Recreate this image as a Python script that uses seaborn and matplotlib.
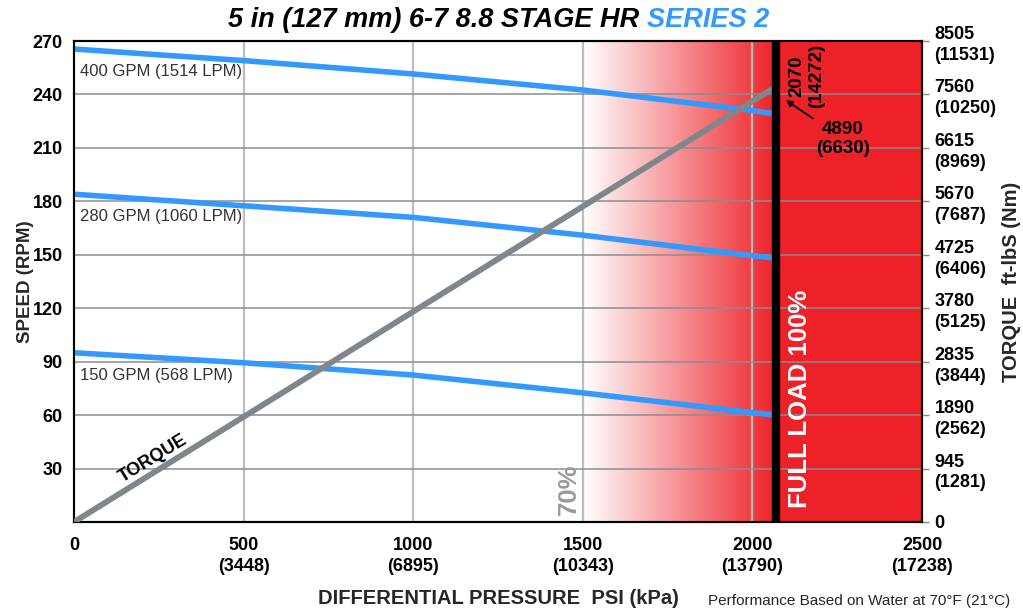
import numpy as np
import pandas as pd
import matplotlib
matplotlib.use("Agg")
import matplotlib.pyplot as plt
from matplotlib.colors import LinearSegmentedColormap
import seaborn as sns

# ---------------- data ----------------
pressure_psi = [0, 500, 1000, 1500, 2000, 2070]
rpm_400 = [265.5, 259, 251.5, 242.5, 231, 229]
rpm_280 = [184, 177.5, 171, 161, 149.5, 148]
rpm_150 = [95, 89.4, 82.5, 72.5, 61.4, 60]
flow_labels = ["400 GPM (1514 LPM)", "280 GPM (1060 LPM)", "150 GPM (568 LPM)"]

torque_psi = [0, 2070]
torque_ftlb = [0, 7700]

x_ticks = [0, 500, 1000, 1500, 2000, 2500]
x_ticklabels = ["0", "500\n(3448)", "1000\n(6895)", "1500\n(10343)", "2000\n(13790)", "2500\n(17238)"]
y_ticks = [30, 60, 90, 120, 150, 180, 210, 240, 270]
t_ticks = [0, 945, 1890, 2835, 3780, 4725, 5670, 6615, 7560, 8505]
t_ticklabels = ["0", "945\n(1281)", "1890\n(2562)", "2835\n(3844)", "3780\n(5125)",
                "4725\n(6406)", "5670\n(7687)", "6615\n(8969)", "7560\n(10250)", "8505\n(11531)"]

full_load_psi = 2070
zone70_psi = 1500
x_max = 2500

# ---------------- style ----------------
sns.set_theme(style="white")
plt.rcParams["font.family"] = ["Liberation Sans", "DejaVu Sans"]

BLUE = "#3399ff"
RED = "#ed2127"
GRAY = "#7f868c"

fig = plt.figure(figsize=(10.23, 6.11), dpi=100)
ax = fig.add_axes([74/1023, 1-522/611, 848/1023, 481/611])
ax.set_xlim(0, x_max)
ax.set_ylim(0, 270)

# red zones
cmap = LinearSegmentedColormap.from_list("wr", ["#ffffff", RED])
grad = np.linspace(0, 1, 256).reshape(1, -1)
ax.imshow(grad, extent=[zone70_psi, full_load_psi, 0, 270], aspect="auto",
          cmap=cmap, zorder=0, interpolation="bilinear")
ax.axvspan(full_load_psi, x_max, color=RED, zorder=0.5, lw=0)

# grid
for yv in y_ticks:
    ax.axhline(yv, color="#8a8d90", lw=1.1, zorder=1.5)
for xv in x_ticks[1:-1]:
    ax.axvline(xv, color="#bdbdbd", lw=1.6, zorder=1.4)

# speed curves
df = pd.DataFrame({
    "psi": pressure_psi * 3,
    "rpm": rpm_400 + rpm_280 + rpm_150,
    "flow": [flow_labels[0]] * 6 + [flow_labels[1]] * 6 + [flow_labels[2]] * 6,
})
sns.lineplot(data=df, x="psi", y="rpm", units="flow", estimator=None, color=BLUE,
             lw=4.0, ax=ax, legend=False, zorder=3, solid_capstyle="butt")

ax.set_xticks(x_ticks)
ax.set_xticklabels(x_ticklabels, fontsize=13, fontweight="bold", linespacing=1.25)
ax.set_yticks(y_ticks)
ax.set_yticklabels([str(v) for v in y_ticks], fontsize=13, fontweight="bold")
ax.tick_params(axis="x", length=0, pad=11, colors="black")
ax.tick_params(axis="y", length=0, pad=8, colors="black")
ax.set_xlabel("")
ax.set_ylabel("SPEED (RPM)", fontsize=13.5, fontweight="bold", labelpad=-1)
for sp in ax.spines.values():
    sp.set_color("black")
    sp.set_linewidth(1.5)

# flow labels
for lab, yv in zip(flow_labels, [rpm_400[0], rpm_280[0], rpm_150[0]]):
    ax.text(18, yv - 8.5, lab, fontsize=12, color="#333333", va="top", ha="left", zorder=4)

# torque axis
ax2 = ax.twinx()
ax2.set_ylim(0, 8505)
sns.lineplot(x=torque_psi, y=torque_ftlb, color=GRAY, lw=4.2, ax=ax2, zorder=3,
             solid_capstyle="butt")
ax2.set_yticks(t_ticks)
ax2.set_yticklabels(t_ticklabels, fontsize=13, fontweight="bold", linespacing=1.3)
ax2.tick_params(axis="y", length=5, width=1, color="#888888", pad=4, colors="black")
ax2.set_ylabel("TORQUE  ft-lbS (Nm)", fontsize=14.5, fontweight="bold", labelpad=4)
for sp in ax2.spines.values():
    sp.set_color("black")
    sp.set_linewidth(1.5)
ax2.grid(False)

# full load line
ax2.axvline(full_load_psi, color="black", lw=6, zorder=5)

# texts (rpm values scaled to torque axis)
k = 8505 / 270
ax2.text(233, 35.5 * k, "TORQUE", rotation=31.5, rotation_mode="anchor",
         ha="center", va="center", fontsize=13, fontweight="bold", color="black", zorder=6)
ax2.text(1459, 4 * k, "70%", rotation=90, ha="center", va="bottom",
         fontsize=18.5, fontweight="bold", color="#9a9a9a", zorder=6)
ax2.text(2139, 8 * k, "FULL LOAD 100%", rotation=90, ha="center", va="bottom",
         fontsize=18.5, fontweight="bold", color="white", zorder=6)
ax2.text(2161, 250.4 * k, "2070\n(14272)", rotation=90, ha="center", va="center",
         multialignment="center", fontsize=13.5, fontweight="bold", color="black",
         linespacing=1.2, zorder=6)
ax2.annotate("4890\n(6630)", xy=(2099, 236.8 * k), xytext=(2267, 215 * k),
             ha="center", va="center", multialignment="center", fontsize=13.5,
             fontweight="bold", color="black", linespacing=1.2, zorder=6,
             arrowprops=dict(arrowstyle="-|>", color="black", lw=1.3,
                             mutation_scale=9, shrinkA=0, shrinkB=0))

# title (two colours)
t1 = fig.text(228/1023, 1-20/611, "5 in (127 mm) 6-7 8.8 STAGE HR ", fontsize=19.5,
              fontweight="bold", fontstyle="italic", ha="left", va="center", color="black")
fig.canvas.draw()
bb = t1.get_window_extent()
fig.text(bb.x1 / fig.bbox.width, 1-20/611, "SERIES 2", fontsize=19.5, fontweight="bold",
         fontstyle="italic", ha="left", va="center", color=BLUE)

fig.text(498/1023, 1-598/611, "DIFFERENTIAL PRESSURE  PSI (kPa)", fontsize=14.5,
         fontweight="bold", ha="center", va="center")
fig.text(1010/1023, 1-601/611, "Performance Based on Water at 70°F (21°C)", fontsize=11,
         ha="right", va="center")

fig.savefig("out.png", dpi=100)
